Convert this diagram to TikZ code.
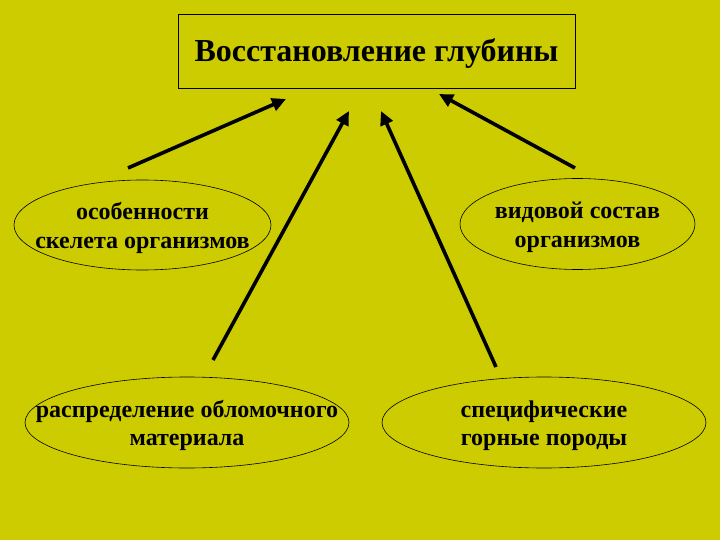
\documentclass[tikz,border=0pt]{standalone}
\usepackage{fontspec}
\setmainfont{Liberation Serif}
\usetikzlibrary{shapes.geometric,arrows.meta}
\definecolor{bg}{HTML}{CCCC00}
\newcommand\twolines[2]{\raisebox{-3.5pt}[\height][\depth]{\begin{tabular}{@{}c@{}}#1\\#2\end{tabular}}}
\begin{document}
\begin{tikzpicture}[x=1pt,y=-1pt,
  ell/.style={draw, ellipse, line width=0.6pt, inner xsep=-60pt, inner ysep=-15pt,
    font=\bfseries\fontsize{24}{28.5}\selectfont},
  arr/.style={line width=3.6pt, -{Triangle[length=14pt,width=13pt]}}]
\fill[bg] (0,0) rectangle (720,540);
\useasboundingbox (0,0) rectangle (720,540);
\node[draw, line width=0.8pt, minimum width=397pt, minimum height=74pt, inner sep=0pt,
  font=\bfseries\fontsize{32}{36}\selectfont] (t) at (376.5,51) {\raisebox{-3pt}[\height][\depth]{Восстановление глубины}};
\node[ell, minimum width=257pt, minimum height=90pt] (e1) at (142.5,225) {\twolines{особенности}{скелета организмов}};
\node[ell, minimum width=235pt, minimum height=91pt] (e2) at (577.5,224) {\twolines{видовой состав}{организмов}};
\node[ell, minimum width=324pt, minimum height=91pt] (e3) at (187,422.5) {\twolines{распределение обломочного}{материала}};
\node[ell, minimum width=324pt, minimum height=91pt] (e4) at (544,422.5) {\twolines{специфические}{горные породы}};
\coordinate (s1) at (128,168);
\coordinate (h1) at (286,99);
\coordinate (s2) at (213,360);
\coordinate (h2) at (349,111);
\coordinate (s3) at (496,367);
\coordinate (h3) at (381,111);
\coordinate (s4) at (575,168);
\coordinate (h4) at (439,94);
\draw[arr] (s1) -- (h1);
\draw[arr] (s2) -- (h2);
\draw[arr] (s3) -- (h3);
\draw[arr] (s4) -- (h4);
\end{tikzpicture}
\end{document}
